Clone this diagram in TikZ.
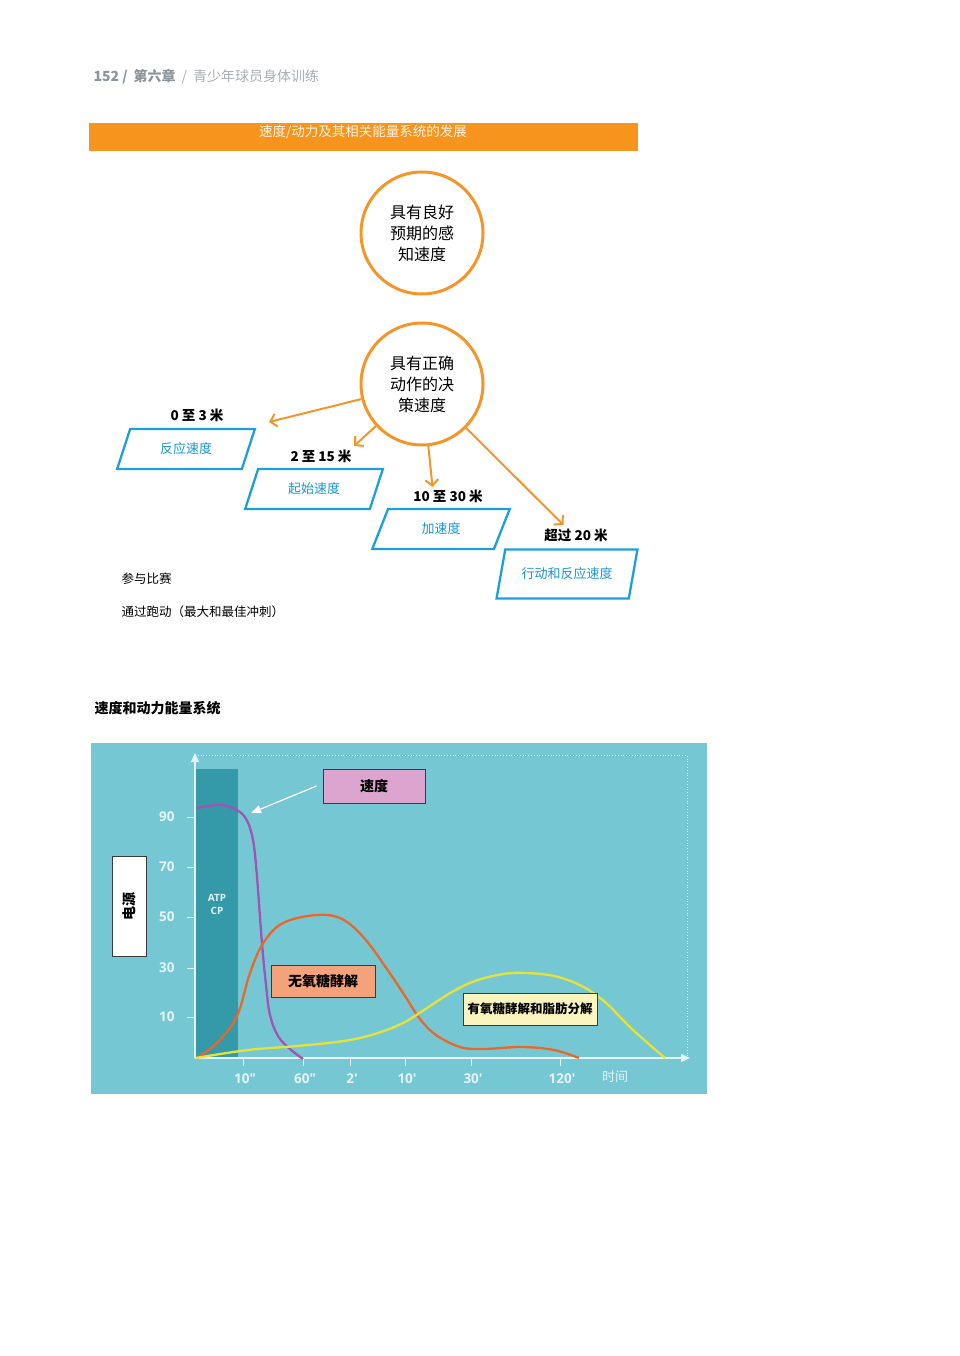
\documentclass[tikz,border=0pt]{standalone}
\usepackage{fontspec}
\setmainfont{Noto Sans CJK SC}
\newfontfamily\numfont{Open Sans}
\usetikzlibrary{arrows.meta, shapes.geometric}
\definecolor{barorange}{HTML}{F7941D}
\definecolor{ringorange}{HTML}{F4952A}
\definecolor{boxblue}{HTML}{1C9FDB}
\definecolor{textblue}{HTML}{1A95D3}
\definecolor{chartbg}{HTML}{75C8D3}
\definecolor{atpbar}{HTML}{3499A8}
\definecolor{axiswhite}{HTML}{E4F3F5}
\definecolor{purplecurve}{HTML}{A054B4}
\definecolor{orangecurve}{HTML}{E8682C}
\definecolor{yellowcurve}{HTML}{E6E23A}
\definecolor{pinkbox}{HTML}{DBA5CF}
\definecolor{salmonbox}{HTML}{F4A27C}
\definecolor{creambox}{HTML}{FAF4BE}
\definecolor{headgray}{HTML}{8C949A}
\definecolor{headlight}{HTML}{A8AEB2}
\definecolor{boxline}{HTML}{3A3A3A}

\begin{document}
\begin{tikzpicture}[x=1pt, y=-1pt,
    ring/.style={circle, draw=ringorange, line width=3pt, minimum size=122pt, inner sep=0pt, align=center, font=\fontsize{16}{21}\selectfont},
    pgram/.style={trapezium, trapezium left angle=70, trapezium right angle=110, trapezium stretches=true, draw=boxblue, line width=2.3pt, minimum width=138pt, minimum height=40pt, text=textblue, font=\fontsize{13}{14}\selectfont},
    dist/.style={font=\bfseries\fontsize{13.5}{15}\selectfont},
    arr/.style={draw=ringorange, line width=2pt, -{Straight Barb[length=6pt,width=13pt]}},
    chartbox/.style={draw=boxline, line width=1pt, inner sep=0pt, font=\bfseries\fontsize{14}{16}\selectfont},
    ynum/.style={text=axiswhite, font=\numfont\bfseries\fontsize{13.5}{15}\selectfont},
    axis/.style={draw=axiswhite, line width=1.3pt, -{Triangle[length=9pt,width=8pt]}}
  ]
  \useasboundingbox (0,0) rectangle (959,1356);

  % page head and title bar
  \node[anchor=west, font=\fontsize{14}{16}\selectfont] (head) at (90,77)
    {{\bfseries\color{headgray}152 /\hspace{6pt}第六章}\hspace{6pt}{\color{headlight}/\hspace{6pt}青少年球员身体训练}};
  \fill[barorange] (89,123) rectangle (638,151);
  \node[text=white!90!barorange, font=\fontsize{13.5}{15}\selectfont] (title) at (363,132) {速度/动力及其相关能量系统的发展};

  % circles
  \node[ring] (c1) at (422,233) {具有良好\\预期的感\\知速度};
  \node[ring] (c2) at (422,384) {具有正确\\动作的决\\策速度};

  % speed types
  \node[pgram] (p1) at (186,449) {反应速度};
  \node[pgram] (p2) at (314,489) {起始速度};
  \node[pgram] (p3) at (441,529) {加速度};
  \node[pgram, minimum height=49pt, minimum width=141pt] (p4) at (567,574) {行动和反应速度};
  \node[dist] (l1) at (197,415) {0 至 3 米};
  \node[dist] (l2) at (321,456) {2 至 15 米};
  \node[dist] (l3) at (448,496) {10 至 30 米};
  \node[dist] (l4) at (576,535) {超过 20 米};
  \coordinate (t1) at (269,422);
  \coordinate (t2) at (354,446);
  \coordinate (t3) at (432.5,487);
  \coordinate (t4) at (563.5,525);
  \draw[arr] (c2) -- (t1);
  \draw[arr] (c2) -- (t2);
  \draw[arr] (c2) -- (t3);
  \draw[arr] (c2) -- (t4);

  \node[anchor=west, font=\fontsize{12.5}{14}\selectfont] (n1) at (118,579) {参与比赛};
  \node[anchor=west, font=\fontsize{12.5}{14}\selectfont] (n2) at (118,612) {通过跑动（最大和最佳冲刺）};

  % energy systems chart
  \node[anchor=west, font=\bfseries\fontsize{14}{16}\selectfont] (ctitle) at (91,708) {速度和动力能量系统};
  \fill[chartbg] (91,743) rectangle (707,1094);
  \node[fill=atpbar, minimum width=42pt, minimum height=289pt, inner sep=0pt, text=axiswhite, align=center,
    font=\numfont\bfseries\fontsize{10}{13}\selectfont] (atp) at (217,913.5) {ATP\\CP\\[5pt]};
  \draw[axiswhite, dotted, line width=0.8pt] (195,755) -- (687,755) -- (687,1058);
  \coordinate (o) at (195,1058);
  \coordinate (ytop) at (195,753);
  \coordinate (xend) at (690,1058);
  \draw[axis] (o) -- (ytop);
  \draw[axis] (o) -- (xend);
  \foreach \v/\y in {90/817, 70/867, 50/917, 30/968, 10/1017} {
    \draw[axiswhite, line width=1pt] (187,\y) -- (195,\y);
    \node[ynum, anchor=east] (y\v) at (178,\y) {\v};
  }
  \foreach \x/\t/\n in {243/10"/a, 303/60"/b, 350/2'/c, 405/10'/d, 471/30'/e, 560/120'/f} {
    \draw[axiswhite, line width=1pt] (\x,1058) -- (\x,1066);
    \node[ynum] (x\n) at (\x+2,1079) {\t};
  }
  \node[text=axiswhite, font=\fontsize{13}{15}\selectfont] (time) at (615,1077) {时间};

  % curves
  \draw[purplecurve, line width=2.3pt] plot[smooth, tension=0.6] coordinates {(196.7,808) (220,805) (236.7,810) (246.7,820) (253,840) (256.7,873) (261.7,940) (266,985) (270,1015) (278,1036) (290,1049) (303,1059)};
  \draw[orangecurve, line width=2.3pt] plot[smooth, tension=0.6] coordinates {(196.7,1058) (216.7,1043) (236.7,1016.7) (250,973) (263.3,943) (283,923) (316.7,915) (342,919) (365,939) (389,972) (405,996) (420,1019) (436,1035) (460,1047) (483,1049) (522,1047) (554,1050) (579,1058)};
  \draw[yellowcurve, line width=2.3pt] plot[smooth, tension=0.6] coordinates {(196,1058) (248,1050) (303,1045.5) (350,1040) (381,1032) (405,1022) (424,1010) (452,992) (475,981) (503,974) (526,973) (554,976) (581,985.6) (605,1002) (632,1029) (665,1058)};

  % labels of the chart
  \node[chartbox, fill=white, minimum width=100pt, minimum height=34pt, rotate=90] (src) at (129,906) {电源};
  \node[chartbox, fill=pinkbox, minimum width=102pt, minimum height=34pt] (sp) at (374,786) {速度};
  \node[chartbox, fill=salmonbox, minimum width=104pt, minimum height=32pt] (an) at (323,981) {无氧糖酵解};
  \node[chartbox, fill=creambox, minimum width=134pt, minimum height=32pt, font=\bfseries\fontsize{12.5}{14}\selectfont] (ae) at (530,1009) {有氧糖酵解和脂肪分解};
  \coordinate (pk) at (251,813);
  \draw[white, line width=1.2pt, -{Triangle[length=10pt,width=8pt]}] ([xshift=-6pt]sp.west) -- (pk);
\end{tikzpicture}
\end{document}
